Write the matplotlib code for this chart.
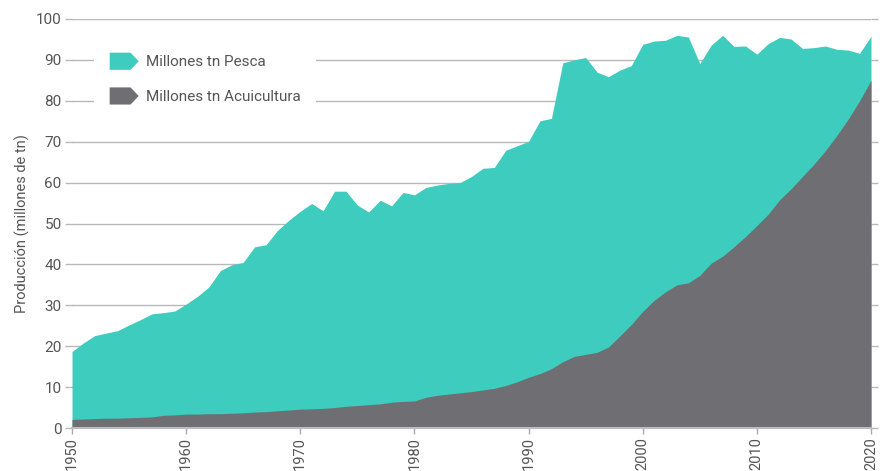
import matplotlib
matplotlib.use("Agg")
import matplotlib.pyplot as plt
from matplotlib.patches import Patch, Polygon
from matplotlib.legend_handler import HandlerPatch

plt.rcParams['font.family'] = ['Roboto', 'DejaVu Sans']

years = list(range(1950, 2021))

pesca = [18.7, 20.8, 22.6, 23.2, 23.8, 25.2, 26.5, 27.9, 28.2, 28.6,
         30.3, 32.2, 34.5, 38.5, 39.9, 40.5, 44.3, 44.8, 48.3, 50.8,
         53.0, 54.9, 53.1, 57.9, 57.9, 54.5, 52.8, 55.7, 54.3, 57.6,
         57.0, 58.8, 59.4, 59.8, 60.0, 61.5, 63.5, 63.7, 67.9, 69.0,
         70.1, 75.1, 75.7, 89.3, 90.0, 90.6, 87.0, 85.9, 87.5, 88.6,
         93.8, 94.6, 94.8, 96.0, 95.6, 89.1, 93.6, 96.0, 93.3, 93.4,
         91.4, 94.0, 95.5, 95.1, 92.8, 93.0, 93.4, 92.6, 92.4, 91.6,
         95.8]

acuicultura = [2.1, 2.2, 2.3, 2.4, 2.4, 2.5, 2.6, 2.7, 3.1, 3.2,
               3.4, 3.4, 3.5, 3.5, 3.6, 3.7, 3.9, 4.0, 4.2, 4.4,
               4.6, 4.7, 4.8, 5.0, 5.3, 5.5, 5.7, 5.9, 6.3, 6.5,
               6.6, 7.5, 8.0, 8.3, 8.6, 8.9, 9.3, 9.7, 10.4, 11.3,
               12.4, 13.3, 14.5, 16.2, 17.5, 18.0, 18.5, 19.8, 22.5, 25.3,
               28.5, 31.2, 33.3, 35.0, 35.5, 37.3, 40.3, 42.0, 44.3, 46.8,
               49.5, 52.3, 55.8, 58.5, 61.5, 64.5, 67.8, 71.5, 75.5, 80.0,
               85.0]

xticks = [1950, 1960, 1970, 1980, 1990, 2000, 2010, 2020]
yticks = [0, 10, 20, 30, 40, 50, 60, 70, 80, 90, 100]

teal = '#3dccbd'
grey = '#6f6e73'
txt = '#555555'
gridc = '#b8b8b8'


class TagHandler(HandlerPatch):
    # pentagon "tag" shaped legend key
    def create_artists(self, legend, orig_handle, xdescent, ydescent,
                       width, height, fontsize, trans):
        x0, y0 = -xdescent, -ydescent
        pts = [[x0, y0], [x0 + 0.72 * width, y0], [x0 + width, y0 + height / 2],
               [x0 + 0.72 * width, y0 + height], [x0, y0 + height]]
        p = Polygon(pts, closed=True, facecolor=orig_handle.get_facecolor(),
                    edgecolor='none', transform=trans)
        return [p]


fig = plt.figure(figsize=(8.91, 4.71), dpi=100)
ax = fig.add_axes([72 / 891, 43 / 471, 799 / 891, 409 / 471])

ax.fill_between(years, 0, pesca, color=teal, linewidth=0, zorder=2)
ax.fill_between(years, 0, acuicultura, color=grey, linewidth=0, zorder=3)

ax.set_xlim(1950, 2020)
ax.set_ylim(0, 100)
ax.set_xticks(xticks)
ax.set_yticks(yticks)
ax.set_xticklabels([str(t) for t in xticks], rotation=90)

ax.yaxis.grid(True, color=gridc, linewidth=1.0)
ax.set_axisbelow(True)

for s in ['top', 'left', 'right']:
    ax.spines[s].set_visible(False)
ax.spines['bottom'].set_color('#b8bcc0')
ax.spines['bottom'].set_linewidth(1.5)
ax.spines['bottom'].set_zorder(4)

ax.tick_params(axis='y', left=True, right=True, direction='out', length=5,
               width=1, color=gridc, labelsize=11, labelcolor=txt, pad=2.5)
ax.tick_params(axis='x', direction='out', length=4, width=1, color='#aaaaaa',
               labelsize=10.5, labelcolor=txt, pad=2.5)

ax.set_ylabel('Producción (millones de tn)', fontsize=10.5, color=txt, labelpad=4)

handles = [Patch(facecolor=teal), Patch(facecolor=grey)]
labels = ['Millones tn Pesca', 'Millones tn Acuicultura']
leg = ax.legend(handles, labels, handler_map={Patch: TagHandler()},
                loc='upper left', bbox_to_anchor=(0.028, 0.955),
                fontsize=11, frameon=True, fancybox=False,
                handlelength=1.9, handleheight=1.35, handletextpad=0.45,
                labelspacing=1.15, borderpad=1.0, borderaxespad=0)
leg.get_frame().set_facecolor('white')
leg.get_frame().set_edgecolor('none')
leg.get_frame().set_alpha(1)
leg.set_zorder(5)
for t in leg.get_texts():
    t.set_color(txt)

fig.savefig('out.png', dpi=100)
